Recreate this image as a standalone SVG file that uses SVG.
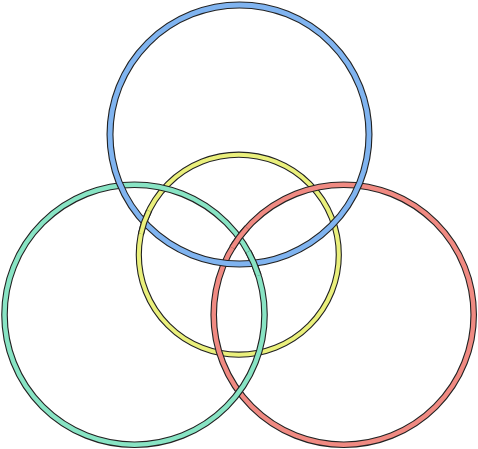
<svg xmlns="http://www.w3.org/2000/svg" width="478" height="449" viewBox="0 0 478 449">
  <style>
    .o { fill: none; stroke: #222; stroke-linecap: butt; }
    .c { fill: none; stroke-linecap: butt; }
    .ob { stroke-width: 7; }
    .cb { stroke: #80b4f0; stroke-width: 4.8; }
    .og { stroke-width: 6.6; }
    .cg { stroke: #88e4c4; stroke-width: 4.4; }
    .or { stroke-width: 6.6; }
    .cr { stroke: #f08a82; stroke-width: 4.4; }
    .oy { stroke-width: 6.2; }
    .cy { stroke: #eaf07c; stroke-width: 4.0; }
  </style>
  <rect width="478" height="449" fill="#ffffff"/>
  <g id="ring-yellow">
    <circle class="o oy" cx="238.8" cy="254.7" r="100"/>
    <circle class="c cy" cx="238.8" cy="254.7" r="100"/>
  </g>
  <g id="ring-red">
    <circle class="o or" cx="343.7" cy="314.7" r="130"/>
    <circle class="c cr" cx="343.7" cy="314.7" r="130"/>
  </g>
  <g id="ring-green">
    <circle class="o og" cx="134.5" cy="314.7" r="130"/>
    <circle class="c cg" cx="134.5" cy="314.7" r="130"/>
  </g>
  <g id="ring-blue">
    <circle class="o ob" cx="239.5" cy="134.5" r="129.5"/>
    <circle class="c cb" cx="239.5" cy="134.5" r="129.5"/>
  </g>
  <g id="crossings">
    <path class="o og" d="M 248.2 251.67 A 130 130 0 0 1 258.48 275.61"/>
    <path class="c cg" d="M 248.2 251.67 A 130 130 0 0 1 258.48 275.61"/>
    <path class="o oy" d="M 140.99 233.91 A 100 100 0 0 1 148.92 210.86"/>
    <path class="c cy" d="M 140.99 233.91 A 100 100 0 0 1 148.92 210.86"/>
    <path class="o or" d="M 232.27 247.75 A 130 130 0 0 1 247.09 227.71"/>
    <path class="c cr" d="M 232.27 247.75 A 130 130 0 0 1 247.09 227.71"/>
  </g>
</svg>
